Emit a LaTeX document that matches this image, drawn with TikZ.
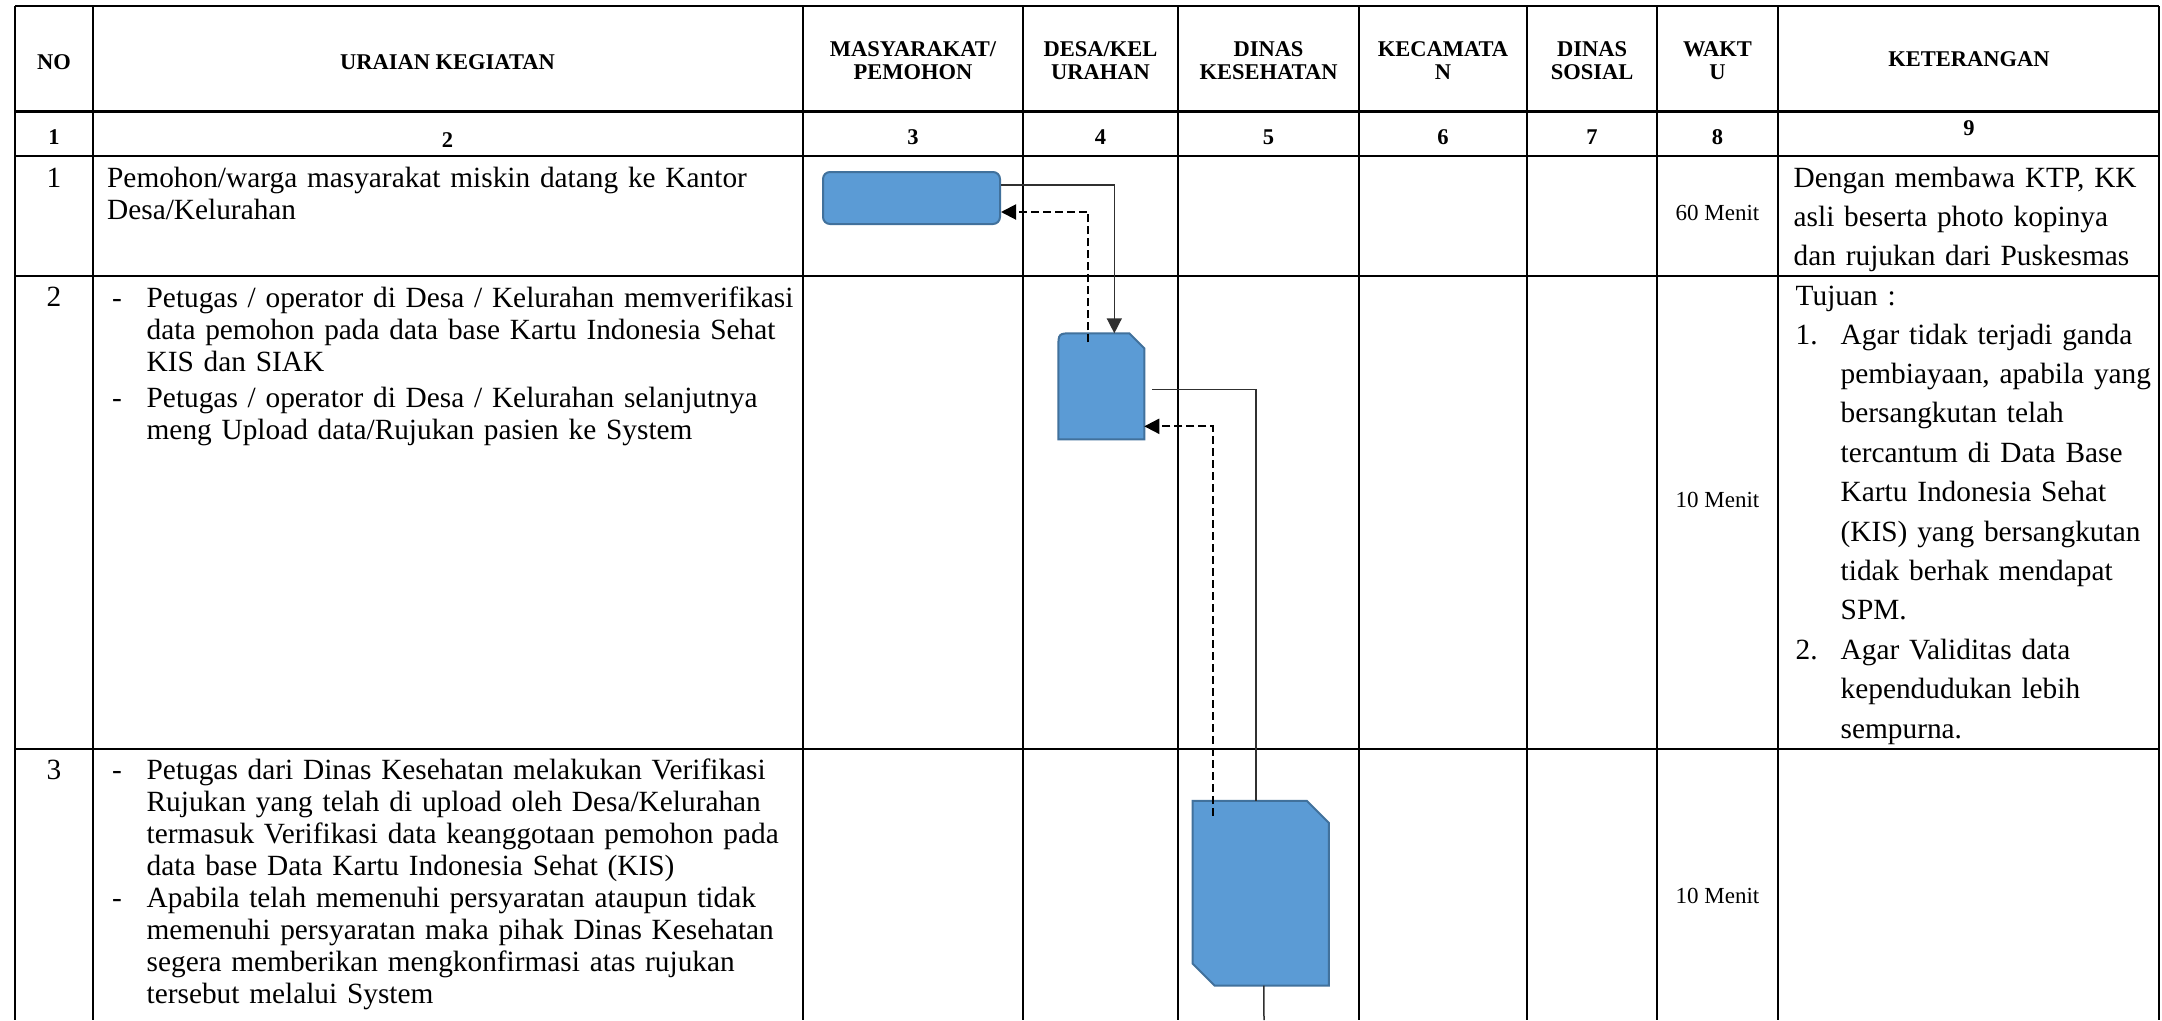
\documentclass[tikz,border=0pt]{standalone}
\usepackage{fontspec}
\setmainfont{Liberation Serif}
\usetikzlibrary{arrows.meta,calc}

\definecolor{biru}{HTML}{5B9BD5}
\definecolor{biruTua}{HTML}{41719C}
\definecolor{abuGaris}{HTML}{303030}
\newcommand{\pxl}{0.3pt}

\begin{document}
\begin{tikzpicture}[
    x=0.3pt, y=-0.3pt,
    >={Triangle[length=4.5pt, width=4.5pt]},
    garis/.style={line width=0.6pt},
    judul/.style={font=\bfseries\fontsize{6.75}{6.9}\selectfont, align=center, inner sep=0pt},
    nomor/.style={font=\bfseries\fontsize{6.75}{8}\selectfont, anchor=base, inner sep=0pt},
    urut/.style={font=\fontsize{8.8}{9.6}\selectfont, anchor=base, inner sep=0pt},
    isi/.style={font=\fontsize{8.8}{9.6}\selectfont, anchor=base west, inner sep=0pt,
                text width=700*\pxl, align=left},
    ket/.style={font=\fontsize{8.8}{11.82}\selectfont, anchor=base west, inner sep=0pt,
                text width=360*\pxl, align=left},
    waktu/.style={font=\fontsize{6.9}{8}\selectfont},
    kotak/.style={fill=biru, draw=biruTua, line width=0.6pt},
    bingkai/.style={inner sep=0pt},
    alur/.style={draw=abuGaris, line width=0.45pt},
    balik/.style={draw=black, line width=0.6pt, dash pattern=on 2.4pt off 1.2pt}
]
    \useasboundingbox (0,0) rectangle (2162,1020);
    \fill[white] (0,0) rectangle (2162,1020);

    % 表格线
    \foreach \x in {15,92.5,803,1023,1178,1359,1527,1657,1778,2159}
        \draw[garis] (\x,6) -- (\x,1020);
    \draw[line width=0.45pt] (15,6) -- (2159,6);
    \draw[line width=0.9pt] (15,111) -- (2159,111);
    \draw[line width=0.45pt] (15,156) -- (2159,156);
    \draw[line width=0.45pt] (15,276) -- (2159,276);
    \draw[line width=0.6pt] (15,749) -- (2159,749);

    % 表头
    \node[judul] (hNo) at (54,62) {NO};
    \node[judul] (hUraian) at (447.5,62) {URAIAN KEGIATAN};
    \node[judul] (hMasy) at (913,61) {MASYARAKAT/\\PEMOHON};
    \node[judul] (hDesa) at (1100.5,61) {DESA/KEL\\URAHAN};
    \node[judul] (hDinkes) at (1268.5,61) {DINAS\\KESEHATAN};
    \node[judul] (hKec) at (1443,61) {KECAMATA\\N};
    \node[judul] (hDinsos) at (1592,61) {DINAS\\SOSIAL};
    \node[judul] (hWaktu) at (1717.5,61) {WAKT\\U};
    \node[judul] (hKet) at (1969,59) {KETERANGAN};

    % 列号
    \foreach \x/\y/\n [count=\i] in {54/144/1, 447.5/147/2, 913/144/3, 1100.5/144/4,
            1268.5/144/5, 1443/144/6, 1592/144/7, 1717.5/144/8, 1969/135/9}
        \node[nomor] (kol\i) at (\x,\y) {\n};

    % 行号
    \node[urut] (no1) at (54,187) {1};
    \node[urut] (no2) at (54,306) {2};
    \node[urut] (no3) at (54,779) {3};

    % 1. 第一行
    \node[isi] (u1) at (106.5,187) {Pemohon/warga masyarakat miskin datang ke Kantor\\
        Desa/Kelurahan};

    % 2. 第二行
    \node[urut] (d21) at (117,307) {-};
    \node[urut] (d22) at (117,407) {-};
    \node[isi] (u2) at (146,307) {Petugas / operator di Desa / Kelurahan memverifikasi\\
        data pemohon pada data base Kartu Indonesia Sehat\\
        KIS dan SIAK\\[1.2pt]
        Petugas / operator di Desa / Kelurahan selanjutnya\\
        meng Upload data/Rujukan pasien ke System};

    % 3. 第三行
    \node[urut] (d31) at (117,779) {-};
    \node[urut] (d32) at (117,907) {-};
    \node[isi] (u3) at (146,779) {Petugas dari Dinas Kesehatan melakukan Verifikasi\\
        Rujukan yang telah di upload oleh Desa/Kelurahan\\
        termasuk Verifikasi data keanggotaan pemohon pada\\
        data base Data Kartu Indonesia Sehat (KIS)\\
        Apabila telah memenuhi persyaratan ataupun tidak\\
        memenuhi persyaratan maka pihak Dinas Kesehatan\\
        segera memberikan mengkonfirmasi atas rujukan\\
        tersebut melalui System};

    % 时间
    \node[waktu] (w1) at (1717.5,213) {60 Menit};
    \node[waktu] (w2) at (1717.5,500) {10 Menit};
    \node[waktu] (w3) at (1717.5,896) {10 Menit};

    % 备注
    \node[ket] (k1) at (1793,187) {Dengan membawa KTP, KK\\
        asli beserta photo kopinya\\
        dan rujukan dari Puskesmas};
    \node[ket] (kTujuan) at (1795,305) {Tujuan :};
    \node[ket] (kA) at (1795,344) {1.};
    \node[ket] (kB) at (1795,659) {2.};
    \node[ket] (k2) at (1840,344) {Agar tidak terjadi ganda\\
        pembiayaan, apabila yang\\
        bersangkutan telah\\
        tercantum di Data Base\\
        Kartu Indonesia Sehat\\
        (KIS) yang bersangkutan\\
        tidak berhak mendapat\\
        SPM.\\
        Agar Validitas data\\
        kependudukan lebih\\
        sempurna.};

    % 流程框
    \node[kotak, rounded corners=2.1pt, minimum width=177*\pxl, minimum height=52*\pxl,
        inner sep=0pt] (masy) at (911.5,198) {};
    \node[bingkai, minimum width=84.6*\pxl, minimum height=104.7*\pxl] (desa) at (1101.3,386.3) {};
    \node[bingkai, minimum width=135*\pxl, minimum height=183.3*\pxl] (dinkes) at (1260.8,893.3) {};
    \draw[kotak] (desa.south west) -- ($(desa.north west)+(0,15)$)
        .. controls (desa.north west) .. ($(desa.north west)+(15,0)$)
        -- ($(desa.north east)+(-15,0)$) -- ($(desa.north east)+(0,15)$)
        -- (desa.south east) -- cycle;
    \draw[kotak] (dinkes.north west) -- ($(dinkes.north east)+(-22,0)$)
        -- ($(dinkes.north east)+(0,22)$) -- (dinkes.south east)
        -- ($(dinkes.south west)+(22,0)$) -- ($(dinkes.south west)+(0,-22)$) -- cycle;

    % 连线
    \draw[alur, ->] ($(masy.east)+(0,-13)$) -| ($(desa.north)+(13,0)$);
    \draw[balik, ->] ($(desa.north)+(-13,9)$) |- ($(masy.east)+(0,14)$);
    \draw[alur] ($(desa.east)+(8,3)$) -| ($(dinkes.north)+(-5,0)$);
    \draw[balik, ->] ($(dinkes.north west)+(20,15)$) |- ($(desa.east)+(0,40)$);
    \coordinate (bawah) at (1264,1020);
    \draw[alur] ($(dinkes.south)+(3,0)$) -- (bawah);

\end{tikzpicture}
\end{document}
